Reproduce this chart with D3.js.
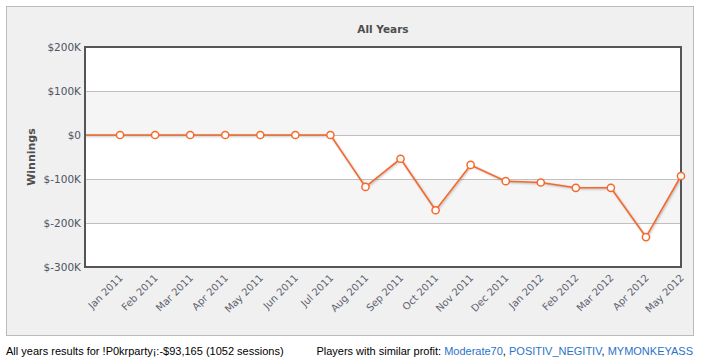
<!DOCTYPE html>
<html>
<head>
<meta charset="utf-8">
<script src="https://cdn.jsdelivr.net/npm/d3@7"></script>
<style>
    body { margin: 0; background: #fff; }
    svg { display: block; }
</style>
</head>
<body>
<div id="chart"></div>
<script>
// month labels (leading blank slot is the unlabelled start of the series)
var months = ['', 'Jan 2011', 'Feb 2011', 'Mar 2011', 'Apr 2011', 'May 2011', 'Jun 2011',
    'Jul 2011', 'Aug 2011', 'Sep 2011', 'Oct 2011', 'Nov 2011', 'Dec 2011',
    'Jan 2012', 'Feb 2012', 'Mar 2012', 'Apr 2012', 'May 2012'];

// cumulative winnings in dollars
var winnings = [0, 0, 0, 0, 0, 0, 0, 0, -118000, -54000, -171000, -68000, -105000,
    -108000, -120000, -120000, -232000, -93165];

var yTicks = [200000, 100000, 0, -100000, -200000, -300000];

var similarPlayers = ['Moderate70', 'POSITIV_NEGITIV', 'MYMONKEYASS'];

var width = 702,
    height = 364,
    margin = { top: 47, right: 21, bottom: 97, left: 85 };

var svg = d3.select('#chart').append('svg')
    .attr('width', width)
    .attr('height', height)
    .style('font-family', 'DejaVu Sans, Verdana, sans-serif');

// outer panel
svg.append('rect')
    .attr('x', 6.5).attr('y', 6.5)
    .attr('width', 687).attr('height', 329)
    .attr('fill', '#f0f0f0')
    .attr('stroke', '#bbb');

var plotW = width - margin.left - margin.right,
    plotH = height - margin.top - margin.bottom;

var x = d3.scaleLinear()
    .domain([0, months.length - 1])
    .range([margin.left, margin.left + plotW]);

var y = d3.scaleLinear()
    .domain([-300000, 200000])
    .range([margin.top + plotH, margin.top]);

// alternating bands
svg.selectAll('.band')
    .data(d3.pairs(yTicks))
    .enter().append('rect')
    .attr('class', 'band')
    .attr('x', margin.left)
    .attr('width', plotW)
    .attr('y', function(d) { return y(d[0]); })
    .attr('height', function(d) { return y(d[1]) - y(d[0]); })
    .attr('fill', function(d, i) { return i % 2 ? '#f5f5f5' : '#fff'; });

// grid lines
svg.selectAll('.grid')
    .data(yTicks.slice(1, -1))
    .enter().append('line')
    .attr('x1', margin.left).attr('x2', margin.left + plotW)
    .attr('y1', function(d) { return Math.round(y(d)) + 0.5; })
    .attr('y2', function(d) { return Math.round(y(d)) + 0.5; })
    .attr('stroke', '#c0c0c0');

// y axis labels
svg.selectAll('.ylab')
    .data(yTicks)
    .enter().append('text')
    .attr('x', margin.left - 4)
    .attr('y', function(d) { return y(d); })
    .attr('dy', '0.35em')
    .attr('text-anchor', 'end')
    .attr('font-size', '10.5px')
    .attr('fill', '#4d5363')
    .text(function(d) {
        return d < 0 ? '$-' + (-d / 1000) + 'K' : d === 0 ? '$0' : '$' + (d / 1000) + 'K';
    });

// y axis title
svg.append('text')
    .attr('transform', 'translate(35,' + (margin.top + plotH / 2) + ') rotate(-90)')
    .attr('text-anchor', 'middle')
    .attr('font-size', '11px')
    .attr('font-weight', 'bold')
    .attr('fill', '#4d4d4d')
    .text('Winnings');

// chart title
svg.append('text')
    .attr('x', margin.left + plotW / 2)
    .attr('y', 33)
    .attr('text-anchor', 'middle')
    .attr('font-size', '10.5px')
    .attr('font-weight', 'bold')
    .attr('fill', '#4d4d4d')
    .text('All Years');

// x labels, rotated
svg.selectAll('.xlab')
    .data(months.map(function(m, i) { return { m: m, i: i }; }).filter(function(d) { return d.m; }))
    .enter().append('text')
    .attr('transform', function(d) {
        return 'translate(' + (x(d.i) + 1) + ',' + (margin.top + plotH + 9) + ') rotate(-45)';
    })
    .attr('text-anchor', 'end')
    .attr('dy', '0.35em')
    .attr('font-size', '10px')
    .attr('fill', '#5f6370')
    .text(function(d) { return d.m; });

var line = d3.line()
    .x(function(d, i) { return x(i); })
    .y(function(d) { return y(d); });

// line shadow
[5, 3, 1].forEach(function(w, k) {
    svg.append('path')
        .datum(winnings)
        .attr('d', line)
        .attr('transform', 'translate(1,1)')
        .attr('fill', 'none')
        .attr('stroke', '#000')
        .attr('stroke-opacity', [0.03, 0.06, 0.1][k])
        .attr('stroke-width', w);
});

svg.append('path')
    .datum(winnings)
    .attr('d', line)
    .attr('fill', 'none')
    .attr('stroke', '#f5692a')
    .attr('stroke-width', 1.6);

// plot border
svg.append('rect')
    .attr('x', margin.left).attr('y', margin.top)
    .attr('width', plotW).attr('height', plotH)
    .attr('fill', 'none')
    .attr('stroke', '#555')
    .attr('stroke-width', 2);

// markers
svg.selectAll('.dot')
    .data(winnings.map(function(v, i) { return { v: v, i: i }; }).filter(function(d) { return months[d.i]; }))
    .enter().append('circle')
    .attr('cx', function(d) { return x(d.i); })
    .attr('cy', function(d) { return y(d.v); })
    .attr('r', 3.6)
    .attr('fill', '#fff')
    .attr('stroke', '#f5692a')
    .attr('stroke-width', 1.5);

// footer
var total = winnings[winnings.length - 1];
svg.append('text')
    .attr('x', 6)
    .attr('y', 355)
    .attr('font-family', 'Liberation Sans, Arial, sans-serif')
    .attr('font-size', '11px')
    .attr('fill', '#000')
    .text('All years results for !P0krparty\u00a1:-$' + d3.format(',')(-total) + ' (1052 sessions)');

var foot = svg.append('text')
    .attr('x', 693)
    .attr('y', 355)
    .attr('text-anchor', 'end')
    .attr('font-family', 'Liberation Sans, Arial, sans-serif')
    .attr('font-size', '11px')
    .attr('fill', '#000');

foot.append('tspan').text('Players with similar profit: ');
similarPlayers.forEach(function(p, i) {
    foot.append('tspan').attr('fill', '#2a72c9').text(p);
    if (i < similarPlayers.length - 1) foot.append('tspan').text(', ');
});
</script>
</body>
</html>
